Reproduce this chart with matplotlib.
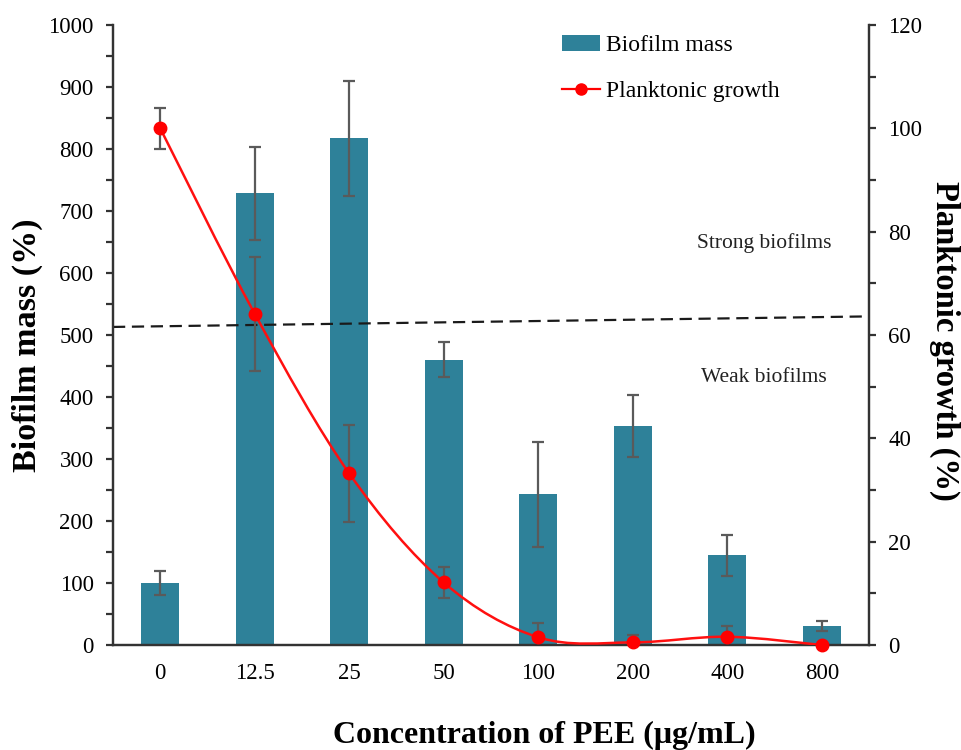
import matplotlib
matplotlib.use('Agg')
import matplotlib.pyplot as plt
import numpy as np
from matplotlib.path import Path
from matplotlib.patches import PathPatch, Patch
from matplotlib.lines import Line2D
from matplotlib.ticker import MultipleLocator

plt.rcParams['font.family'] = ['Liberation Serif', 'DejaVu Serif']

concentrations = ['0', '12.5', '25', '50', '100', '200', '400', '800']
biofilm_mass = [100, 729, 817, 460, 243, 353, 145, 31]
biofilm_err = [20, 75, 93, 28, 85, 50, 33, 8]
planktonic = [100, 64.1, 33.2, 12.1, 1.5, 0.5, 1.6, 0.0]
planktonic_err = [4, 11, 9.3, 3, 2.7, 1.4, 2, 0]
threshold = [513, 530]  # dashed line value at left / right edge

bar_color = '#2E8199'
err_color = '#5a5a5a'

fig = plt.figure(figsize=(9.61, 7.5), dpi=100)
W, H = 961, 750
x0, x1, y0, y1 = 113, 869, 645, 25
ax = fig.add_axes([x0 / W, 1 - y0 / H, (x1 - x0) / W, (y0 - y1) / H])
ax2 = ax.twinx()

x = np.arange(len(concentrations))
ax.bar(x, biofilm_mass, width=0.4, color=bar_color, zorder=2)
ax.errorbar(x, biofilm_mass, yerr=biofilm_err, fmt='none', ecolor=err_color,
            elinewidth=1.6, capsize=4, capthick=1.6, zorder=3)

ax.set_xlim(-0.5, len(concentrations) - 0.5)
ax.set_ylim(0, 1000)
ax.plot([-0.5, len(concentrations) - 0.5], threshold, ls=(0, (5.5, 3)),
        color='#1a1a1a', lw=1.6, zorder=4)

ax2.set_ylim(0, 120)
# smooth curve (Excel-style Bezier through the points)
pts = np.column_stack([x, planktonic]).astype(float)
verts = [tuple(pts[0])]
codes = [Path.MOVETO]
n = len(pts)
for i in range(n - 1):
    p0 = pts[i - 1] if i > 0 else pts[i]
    p1 = pts[i]
    p2 = pts[i + 1]
    p3 = pts[i + 2] if i + 2 < n else pts[i + 1]
    c1 = p1 + (p2 - p0) / 6.0
    c2 = p2 - (p3 - p1) / 6.0
    verts += [tuple(c1), tuple(c2), tuple(p2)]
    codes += [Path.CURVE4] * 3
ax2.add_patch(PathPatch(Path(verts, codes), fill=False, edgecolor='#ff1010',
                        lw=1.8, zorder=3))
ax2.errorbar(x, planktonic, yerr=planktonic_err, fmt='none', ecolor=err_color,
             elinewidth=1.6, capsize=4, capthick=1.6, zorder=2)
ax2.plot(x, planktonic, 'o', color='#ff0000', ms=9, zorder=4, clip_on=False)

# axes styling
for a in (ax, ax2):
    a.spines['top'].set_visible(False)
    for s in ('left', 'right', 'bottom'):
        a.spines[s].set_linewidth(1.6)
        a.spines[s].set_color('#333333')
ax.set_xticks(x)
ax.set_xticklabels(concentrations)
ax.tick_params(axis='x', length=0, pad=13, labelsize=16.5)
ax.yaxis.set_major_locator(MultipleLocator(100))
ax.yaxis.set_minor_locator(MultipleLocator(50))
ax.tick_params(axis='y', which='both', direction='out', length=5, width=1.6,
               color='#333333', labelsize=16.5, pad=9)
ax2.yaxis.set_major_locator(MultipleLocator(20))
ax2.yaxis.set_minor_locator(MultipleLocator(10))
ax2.tick_params(axis='y', which='both', direction='out', length=5, width=1.6,
                color='#333333', labelsize=16.5, pad=9)

ax.set_xlabel('Concentration of PEE (μg/mL)', fontsize=23, fontweight='bold',
              va='center', ha='center')
ax.xaxis.set_label_coords((544 - x0) / (x1 - x0), (y0 - 735) / (y0 - y1))
ax.set_ylabel('Biofilm mass (%)', fontsize=24.5, fontweight='bold', rotation=90,
              va='center', ha='center', rotation_mode='default')
ax.yaxis.set_label_coords((27 - x0) / (x1 - x0), (y0 - 345) / (y0 - y1))
ax2.set_ylabel('Planktonic growth (%)', fontsize=23.5, fontweight='bold',
               rotation=270, va='center', ha='center', rotation_mode='default')
ax2.yaxis.set_label_coords((945 - x0) / (x1 - x0), (y0 - 341) / (y0 - y1))

ax.text(6.39, 648, 'Strong biofilms', fontsize=15.5, ha='center', va='center',
        color='#222222')
ax.text(6.39, 431, 'Weak biofilms', fontsize=15.5, ha='center', va='center',
        color='#222222')

handles = [Patch(facecolor=bar_color, edgecolor='none'),
           Line2D([], [], color='#ff0000', lw=1.6, marker='o', ms=8)]
ax2.legend(handles, ['Biofilm mass', 'Planktonic growth'], loc='upper left',
           bbox_to_anchor=((562 - x0) / (x1 - x0), 0.984), frameon=False,
           fontsize=17, labelspacing=1.03, handlelength=1.6, handletextpad=0.25,
           borderaxespad=0, borderpad=0)

fig.savefig('out.png', dpi=100)
